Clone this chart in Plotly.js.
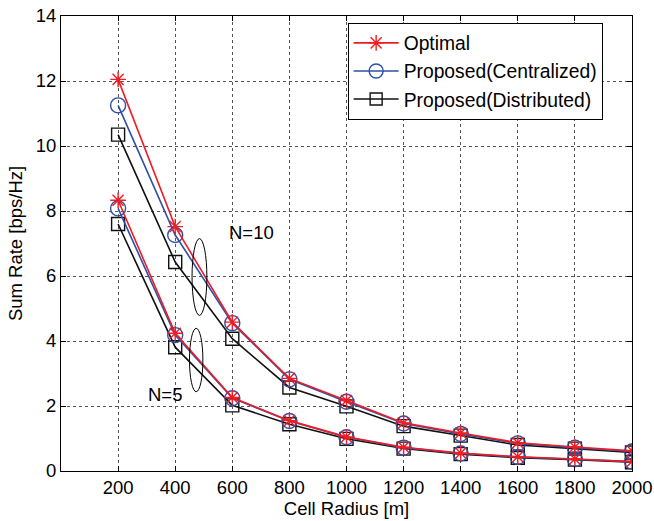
<!DOCTYPE html>
<html>
<head>
<meta charset="utf-8">
<script src="https://cdn.plot.ly/plotly-3.0.1.min.js"></script>
<style>html,body{margin:0;padding:0;background:#fff;}#chart{width:654px;height:521px;}</style>
</head>
<body>
<div id="chart"></div>
<script>
var radius = [200, 400, 600, 800, 1000, 1200, 1400, 1600, 1800, 2000];
var xTickLabels = ["200","400","600","800","1000","1200","1400","1600","1800","2000"];

var optN10 = [12.05, 7.52, 4.58, 2.85, 2.17, 1.48, 1.17, 0.87, 0.74, 0.62];
var cenN10 = [11.25, 7.26, 4.55, 2.82, 2.13, 1.46, 1.14, 0.85, 0.72, 0.60];
var disN10 = [10.35, 6.43, 4.07, 2.57, 1.99, 1.38, 1.09, 0.80, 0.69, 0.57];

var optN5 = [8.33, 4.24, 2.26, 1.55, 1.05, 0.73, 0.55, 0.44, 0.37, 0.29];
var cenN5 = [8.08, 4.18, 2.24, 1.54, 1.04, 0.72, 0.54, 0.43, 0.36, 0.29];
var disN5 = [7.60, 3.81, 2.02, 1.44, 0.99, 0.69, 0.52, 0.41, 0.35, 0.27];

var seriesNames = ["Optimal", "Proposed(Centralized)", "Proposed(Distributed)"];
var RED = "#ee1c25", BLUE = "#2e4fa6", BLACK = "#111111";
var FS = 18.5;

function tr(y, name, color, symbol, size, show) {
  return {
    x: radius, y: y, type: "scatter", mode: "lines+markers", name: name,
    showlegend: show, legendgroup: name,
    line: {color: color, width: 1.6},
    marker: {symbol: symbol, size: size, color: color, line: {color: color, width: 1.4}}
  };
}

var data = [
  tr(disN10, seriesNames[2], BLACK, "square-open", 13, false),
  tr(cenN10, seriesNames[1], BLUE, "circle-open", 15, false),
  tr(optN10, seriesNames[0], RED, "asterisk-open", 13, false),
  tr(disN5, seriesNames[2], BLACK, "square-open", 13, false),
  tr(cenN5, seriesNames[1], BLUE, "circle-open", 15, false),
  tr(optN5, seriesNames[0], RED, "asterisk-open", 13, false),
  {x:[null], y:[null], type:"scatter", mode:"lines+markers", name:seriesNames[0], legendrank:1,
   line:{color:RED,width:1.6}, marker:{symbol:"asterisk-open", size:13, color:RED, line:{color:RED,width:1.4}}},
  {x:[null], y:[null], type:"scatter", mode:"lines+markers", name:seriesNames[1], legendrank:2,
   line:{color:BLUE,width:1.6}, marker:{symbol:"circle-open", size:14, color:BLUE, line:{color:BLUE,width:1.4}}},
  {x:[null], y:[null], type:"scatter", mode:"lines+markers", name:seriesNames[2], legendrank:3,
   line:{color:BLACK,width:1.6}, marker:{symbol:"square-open", size:12, color:BLACK, line:{color:BLACK,width:1.4}}}
];

var fam = "Liberation Sans, Arial, sans-serif";
var font = {family: fam, size: FS, color: "#000"};

var layout = {
  width: 654, height: 521,
  margin: {l: 61, r: 22, t: 16, b: 50},
  paper_bgcolor: "#fff", plot_bgcolor: "#fff",
  font: font,
  showlegend: true,
  legend: {
    x: 0.502, y: 0.985, xanchor: "left", yanchor: "top",
    bgcolor: "#fff", bordercolor: "#000", borderwidth: 1,
    font: {family: fam, size: 19.3, color: "#000"},
    tracegroupgap: 0, itemwidth: 45
  },
  xaxis: {
    range: [0, 2000], tickvals: radius, ticktext: xTickLabels,
    showline: true, linecolor: "#000", linewidth: 1, mirror: "ticks",
    ticks: "inside", ticklen: 5, tickcolor: "#000",
    showgrid: true, gridcolor: "#555", griddash: "dot", gridwidth: 1,
    zeroline: false,
    tickfont: {family: fam, size: FS, color: "#000"},
    title: {text: "Cell Radius [m]", font: {family: fam, size: FS, color: "#000"}, standoff: 2}
  },
  yaxis: {
    range: [0, 14], tickvals: [0,2,4,6,8,10,12,14],
    showline: true, linecolor: "#000", linewidth: 1, mirror: "ticks",
    ticks: "inside", ticklen: 5, tickcolor: "#000",
    showgrid: true, gridcolor: "#555", griddash: "dot", gridwidth: 1,
    zeroline: false,
    tickfont: {family: fam, size: FS, color: "#000"},
    title: {text: "Sum Rate [bps/Hz]", font: {family: fam, size: FS, color: "#000"}, standoff: 8}
  },
  shapes: [
    {type: "circle", xref: "x", yref: "y", x0: 459, x1: 511, y0: 4.79, y1: 7.15,
     line: {color: "#000", width: 1}},
    {type: "circle", xref: "x", yref: "y", x0: 450, x1: 497, y0: 2.44, y1: 4.39,
     line: {color: "#000", width: 1}}
  ],
  annotations: [
    {x: 583, y: 7.35, xref: "x", yref: "y", text: "N=10", showarrow: false, xanchor: "left",
     font: {family: fam, size: FS, color: "#000"}},
    {x: 299, y: 2.36, xref: "x", yref: "y", text: "N=5", showarrow: false, xanchor: "left",
     font: {family: fam, size: FS, color: "#000"}}
  ]
};

Plotly.newPlot("chart", data, layout, {displayModeBar: false, staticPlot: true});
</script>
</body>
</html>
